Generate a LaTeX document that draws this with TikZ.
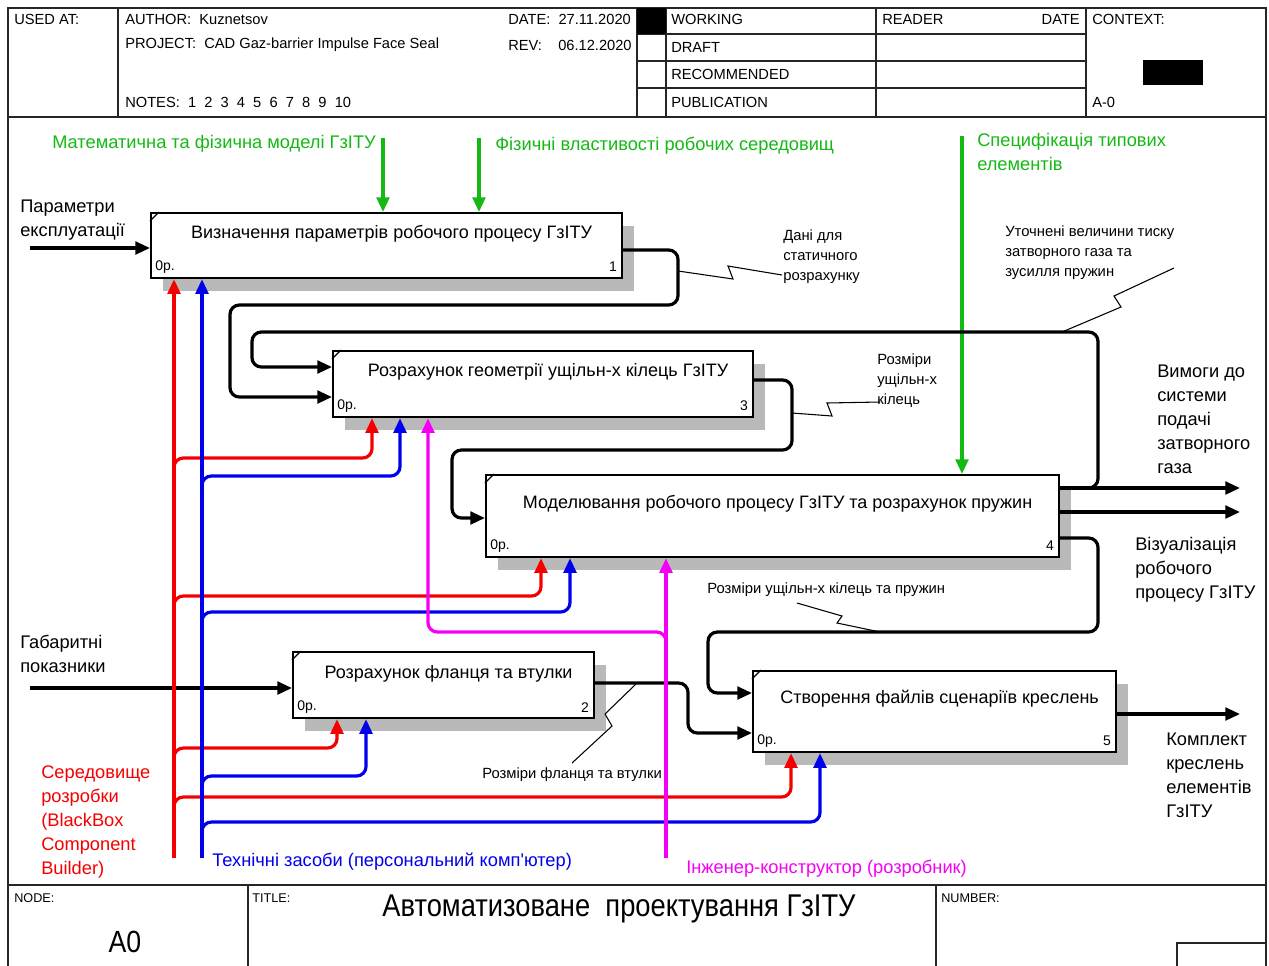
\documentclass[tikz,border=0pt]{standalone}
\usepackage{fontspec}
\usepackage{graphicx}
\setmainfont{Liberation Sans}
\usetikzlibrary{arrows.meta,calc,shadows}

\definecolor{ctlgreen}{RGB}{20,185,20}
\definecolor{mechred}{RGB}{245,0,0}
\definecolor{mechblue}{RGB}{0,0,235}
\definecolor{mechmag}{RGB}{245,0,245}
\def\px{0.75pt}

% activity box: name, x, y (top-left), width, height, title offset, title, number
\newcommand\actbox[8]{%
  \node[box, minimum width=#4*\px, minimum height=#5*\px] (#1) at (#2,#3) {};
  \draw[line width=0.9pt] ($(#1.north west)+(0,9)$) -- ($(#1.north west)+(9,0)$);
  \node[boxtitle] (#1t) at ($(#1.north)+(5,#6)$) {#7};
  \node[boxnote, anchor=west] (#1o) at ($(#1.south west)+(5,-12)$) {0р.};
  \node[boxnote, anchor=east] (#1n) at ($(#1.south east)+(-6,-12)$) {#8};
}

\begin{document}
\begin{tikzpicture}[x=0.75pt,y=-0.75pt,
  frame/.style={line width=1.1pt, draw=black!85},
  hdr/.style={font=\fontsize{11}{13}\selectfont, inner sep=0pt, anchor=west},
  ftr/.style={font=\fontsize{9.5}{11}\selectfont, inner sep=0pt, anchor=north west},
  box/.style={draw, line width=1.6pt, fill=white, anchor=north west, inner sep=0pt,
    drop shadow={shadow xshift=9pt, shadow yshift=-10pt, fill=gray!55, opacity=1}},
  boxtitle/.style={font=\fontsize{13.5}{16}\selectfont, inner sep=0pt},
  boxnote/.style={font=\fontsize{10.5}{12}\selectfont, inner sep=0pt},
  lbl/.style={font=\fontsize{13.7}{18}\selectfont, inner sep=0pt, align=left},
  lblsmall/.style={font=\fontsize{11.1}{15}\selectfont, inner sep=0pt, align=left},
  flow/.style={line width=2.4pt, rounded corners=7pt, -{Triangle[length=11pt,width=9.5pt]}},
  ctl/.style={flow, draw=ctlgreen},
  mred/.style={flow, draw=mechred},
  mblue/.style={flow, draw=mechblue},
  mmag/.style={flow, draw=mechmag},
  squig/.style={line width=0.8pt}]

\useasboundingbox (0,0) rectangle (1269,965);

% ---- frame, header and footer ----
\draw[frame] (8,975) -- (8,8) -- (1266,8) -- (1266,975);
\draw[frame] (8,117) -- (1266,117);
\foreach \xx in {118,637,666,876,1086} \draw[frame] (\xx,8) -- (\xx,117);
\foreach \yy in {34,61,88} \draw[frame] (637,\yy) -- (1086,\yy);
\fill (637,8) rectangle (666,34);
\fill (1143,60) rectangle (1203,85);

\node[hdr] (usedat) at (14,19) {USED AT:};
\node[hdr] (author) at (125,19) {AUTHOR:\ \ Kuznetsov};
\node[hdr] (project) at (125,45) {PROJECT:\ \ CAD Gaz-barrier Impulse Face Seal};
\node[hdr] (notes) at (125,102) {NOTES:\ \ 1\ \ 2\ \ 3\ \ 4\ \ 5\ \ 6\ \ 7\ \ 8\ \ 9\ \ 10};
\node[hdr] (date) at (508,19) {DATE:\ \ 27.11.2020};
\node[hdr] (rev) at (508,45) {REV:\ \ \ \ 06.12.2020};
\node[hdr] (working) at (671,19) {WORKING};
\node[hdr] (draft) at (671,47) {DRAFT};
\node[hdr] (recom) at (671,74) {RECOMMENDED};
\node[hdr] (publ) at (671,102) {PUBLICATION};
\node[hdr] (reader) at (882,19) {READER};
\node[hdr, anchor=east] (rdate) at (1080,19) {DATE};
\node[hdr] (context) at (1092,19) {CONTEXT:};
\node[hdr] (ctxnode) at (1092,102) {A-0};

\draw[frame] (8,885) -- (1266,885);
\draw[frame] (248,885) -- (248,975);
\draw[frame] (936,885) -- (936,975);
\draw[frame] (1177,975) -- (1177,943) -- (1266,943);
\node[ftr] (nodelbl) at (14,893) {NODE:};
\node[ftr] (titlelbl) at (252,893) {TITLE:};
\node[ftr] (numlbl) at (941,893) {NUMBER:};
\node[font=\fontsize{20}{24}\selectfont, inner sep=0pt] (nodeid) at (125,942) {\scalebox{1}[1.15]{A0}};
\node[font=\fontsize{20.5}{24}\selectfont, inner sep=0pt] (title) at (619,909) {\scalebox{1}[1.15]{Автоматизоване\ \ проектування ГзІТУ}};

% ---- activities ----
\actbox{b1}{150}{212}{471}{65}{22}{Визначення параметрів робочого процесу ГзІТУ}{1}
\actbox{b3}{332}{350}{420}{66}{22}{Розрахунок геометрії ущільн-х кілець ГзІТУ}{3}
\actbox{b4}{485}{474}{573}{82}{30}{Моделювання робочого процесу ГзІТУ та розрахунок пружин}{4}
\actbox{b2}{292}{651}{301}{66}{23}{Розрахунок фланця та втулки}{2}
\actbox{b5}{752}{670}{363}{81}{29}{Створення файлів сценаріїв креслень}{5}

% ---- inputs ----
\coordinate (in1) at (30,248);
\draw[flow] (in1) -- (in1 -| b1.west);
\coordinate (in2) at (30,688);
\draw[flow] (in2) -- (in2 -| b2.west);

% ---- controls ----
\coordinate (c1) at (383,138);
\coordinate (c2) at (479,138);
\coordinate (c3) at (962,136);
\draw[ctl] (c1) -- (c1 |- b1.north);
\draw[ctl] (c2) -- (c2 |- b1.north);
\draw[ctl] (c3) -- (c3 |- b4.north);

% ---- links between activities ----
\draw[flow] ($(b1.north east)+(0,38)$) -- (678,250) -- (678,305) -- (230,305) -- (230,397) -- ($(b3.north west)+(0,47)$);
\draw[flow] ($(b4.north east)+(0,14)$) -- (1098,488) -- (1098,332) -- (252,332) -- (252,367) -- ($(b3.north west)+(0,17)$);
\draw[flow] ($(b3.north east)+(0,30)$) -- (792,380) -- (792,450) -- (452,450) -- (452,518) -- ($(b4.north west)+(0,44)$);
\draw[flow] ($(b4.north east)+(0,64)$) -- (1098,538) -- (1098,632) -- (708,632) -- (708,693) -- ($(b5.north west)+(0,23)$);
\draw[flow] ($(b2.north east)+(0,32)$) -- (688,683) -- (688,733) -- ($(b5.north west)+(0,63)$);

% ---- outputs ----
\coordinate (o4a) at (1240,488);
\coordinate (o4b) at (1240,512);
\coordinate (o5) at (1240,714);
\draw[flow] ($(b4.north east)+(0,14)$) -- (o4a);
\draw[flow] ($(b4.north east)+(0,38)$) -- (o4b);
\draw[flow] ($(b5.north east)+(0,44)$) -- (o5);

% ---- mechanisms ----
\coordinate (mr) at (174,858);
\coordinate (mb) at (202,858);
\coordinate (mm) at (666,858);
\draw[mred] (mr) -- (mr |- b1.south);
\draw[mred] (mr |- 0,470) -- (174,458) -- (372,458) -- (372,0 |- b3.south);
\draw[mred] (mr |- 0,608) -- (174,596) -- (541,596) -- (541,0 |- b4.south);
\draw[mred] (mr |- 0,760) -- (174,748) -- (337,748) -- (337,0 |- b2.south);
\draw[mred] (mr |- 0,809) -- (174,797) -- (791,797) -- (791,0 |- b5.south);
\draw[mblue] (mb) -- (mb |- b1.south);
\draw[mblue] (mb |- 0,488) -- (202,476) -- (400,476) -- (400,0 |- b3.south);
\draw[mblue] (mb |- 0,624) -- (202,612) -- (570,612) -- (570,0 |- b4.south);
\draw[mblue] (mb |- 0,788) -- (202,776) -- (366,776) -- (366,0 |- b2.south);
\draw[mblue] (mb |- 0,834) -- (202,822) -- (820,822) -- (820,0 |- b5.south);
\draw[mmag] (mm) -- (mm |- b4.south);
\draw[mmag] (mm |- 0,644) -- (666,632) -- (428,632) -- (428,0 |- b3.south);

% ---- squiggles tying labels to arrows ----
\draw[squig] (678,271) -- (733,279) -- (728,266) -- (782,275);
\draw[squig] (1062,332) -- (1121,307) -- (1114,296) -- (1174,268);
\draw[squig] (792,413) -- (832,416) -- (827,403) -- (880,402);
\draw[squig] (797,603) -- (842,616) -- (837,623) -- (880,632);
\draw[squig] (637,683) -- (605,714) -- (612,726) -- (572,763);

% ---- arrow labels ----
\node[lbl, anchor=north west] (lin1) at (20,200) {Параметри\\експлуатації};
\node[lbl, anchor=north west] (lin2) at (20,635) {Габаритні\\показники};
\node[lbl, anchor=west, text=ctlgreen] (lc1) at (52,144) {Математична та фізична моделі ГзІТУ};
\node[lbl, anchor=west, text=ctlgreen] (lc2) at (495,146) {Фізичні властивості робочих середовищ};
\node[lbl, anchor=north west, text=ctlgreen] (lc3) at (977,133) {Специфікація типових\\елементів};
\node[lblsmall, anchor=north west] (l13) at (783,229) {Дані для\\статичного\\розрахунку};
\node[lblsmall, anchor=north west] (l43) at (1005,225) {Уточнені величини тиску\\затворного газа та\\зусилля пружин};
\node[lblsmall, anchor=north west] (l34) at (877,353) {Розміри\\ущільн-х\\кілець};
\node[lblsmall, anchor=west] (l45) at (707,590) {Розміри ущільн-х кілець та пружин};
\node[lblsmall, anchor=west] (l25) at (482,775) {Розміри фланця та втулки};
\node[lbl, anchor=north west] (lo4a) at (1157,365) {Вимоги до\\системи\\подачі\\затворного\\газа};
\node[lbl, anchor=north west] (lo4b) at (1135,537) {Візуалізація\\робочого\\процесу ГзІТУ};
\node[lbl, anchor=north west] (lo5) at (1166,733) {Комплект\\креслень\\елементів\\ГзІТУ};
\node[lbl, anchor=north west, text=mechred] (lmr) at (41,765) {Середовище\\розробки\\(BlackBox\\Component\\Builder)};
\node[lbl, anchor=west, text=mechblue] (lmb) at (212,862) {Технічні засоби (персональний комп\textquotesingle ютер)};
\node[lbl, anchor=west, text=mechmag] (lmm) at (686,869) {Інженер-конструктор (розробник)};

\end{tikzpicture}
\end{document}
